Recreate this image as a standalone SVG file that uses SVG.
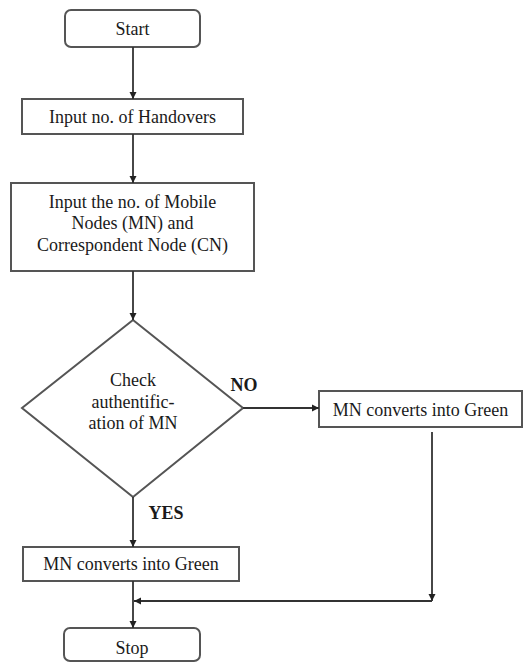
<svg xmlns="http://www.w3.org/2000/svg" width="531" height="664" viewBox="0 0 531 664">
<style>
.box{fill:#fff;stroke:#555;stroke-width:2}
.t{font-size:18px;fill:#1a1a1a;text-anchor:middle}
.b{font-weight:bold}
.c{fill:none;stroke:#333;stroke-width:1.8}
</style>
<defs>
<marker id="ah" markerWidth="8" markerHeight="8" refX="7" refY="4" orient="auto" markerUnits="userSpaceOnUse">
<path d="M0,0.5 L7,4 L0,7.5 Z" fill="#222"/>
</marker>
</defs>
<rect width="531" height="664" fill="#fff"/>
<g font-family="Liberation Serif, Times New Roman, DejaVu Serif, serif">
<g id="start"><rect class="box" x="65" y="10" width="135" height="37" rx="6"/><text class="t" x="132.5" y="35">Start</text></g>
<g id="handovers"><rect class="box" x="22" y="99" width="221" height="35"/><text class="t" x="132.5" y="123">Input no. of Handovers</text></g>
<g id="inputnodes"><rect class="box" x="11" y="183" width="243" height="88"/>
<text class="t" x="132.5" y="208">Input the no. of Mobile</text>
<text class="t" x="132.5" y="229">Nodes (MN) and</text>
<text class="t" x="132.5" y="251">Correspondent Node (CN)</text></g>
<g id="check"><polygon class="box" points="133,320 243,408 133,497 22,408"/>
<text class="t" x="133" y="386">Check</text>
<text class="t" x="133" y="408">authentific-</text>
<text class="t" x="133" y="429">ation of MN</text></g>
<g id="green-no"><rect class="box" x="319" y="391" width="203" height="36"/><text class="t" x="420.5" y="416">MN converts into Green</text></g>
<g id="green-yes"><rect class="box" x="23" y="547" width="216" height="34"/><text class="t" x="131" y="570">MN converts into Green</text></g>
<g id="stop"><rect class="box" x="64" y="628" width="136" height="33" rx="6"/><text class="t" x="132" y="654">Stop</text></g>
<g id="connectors">
<line class="c" x1="133" y1="47" x2="133" y2="99" marker-end="url(#ah)"/>
<line class="c" x1="133" y1="134" x2="133" y2="183" marker-end="url(#ah)"/>
<line class="c" x1="133" y1="271" x2="133" y2="320" marker-end="url(#ah)"/>
<line class="c" x1="243" y1="408" x2="319" y2="408" marker-end="url(#ah)"/>
<line class="c" x1="133" y1="497" x2="133" y2="547" marker-end="url(#ah)"/>
<line class="c" x1="432" y1="432" x2="432" y2="601" marker-end="url(#ah)"/>
<line class="c" x1="432" y1="601" x2="134" y2="601" marker-end="url(#ah)"/>
<line class="c" x1="133" y1="581" x2="133" y2="628" marker-end="url(#ah)"/>
<text class="t b" x="244" y="391">NO</text>
<text class="t b" x="166" y="519">YES</text>
</g>
</g>
</svg>
